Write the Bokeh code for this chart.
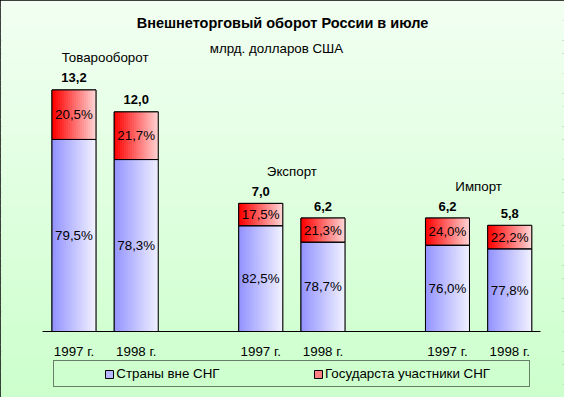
import numpy as np
from bokeh.plotting import figure
from bokeh.models import ColumnDataSource, Range1d, Legend, LegendItem, FixedTicker, Label
from bokeh.core.properties import value
from bokeh.embed import file_html
from bokeh.resources import INLINE

# ---------------- data ----------------
groups = ["Товарооборот", "Экспорт", "Импорт"]
year_labels = ["1997 г.", "1998 г.", "1997 г.", "1998 г.", "1997 г.", "1998 г."]
totals = [13.2, 12.0, 7.0, 6.2, 6.2, 5.8]
share_non_cis = [79.5, 78.3, 82.5, 78.7, 76.0, 77.8]
share_cis = [20.5, 21.7, 17.5, 21.3, 24.0, 22.2]
series_names = ["Страны вне СНГ", "Государста участники СНГ"]
title_text = "Внешнеторговый оборот России в июле"
subtitle_text = "млрд. долларов США"

FONT = "Liberation Sans"
FS = "13.33px"

# ---------------- layout helpers ----------------
W_FIG, H_FIG = 564, 397
PX = 62.25          # px per category slot
PY = 18.3           # px per value unit
BASE = 331          # baseline, px from top of figure
X0 = -0.5 - 42.35 / PX
X1 = X0 + W_FIG / PX
Y0 = -(H_FIG - BASE) / PY
Y1 = BASE / PY

def dx(fx):
    return X0 + fx / PX

def dy(fy):
    return (BASE - fy) / PY

# slot positions: 2 bars per group, one empty slot between groups
pos = [g * 3 + j for g in range(len(groups)) for j in range(2)]
BW = 44 / PX

tot = np.array(totals)
blue = tot * np.array(share_non_cis) / 100.0
red_b = blue
red_t = tot

p = figure(width=W_FIG, height=H_FIG, output_backend="svg", toolbar_location=None,
           x_range=Range1d(X0, X1), y_range=Range1d(Y0, Y1))
p.min_border = 0
p.min_border_left = p.min_border_right = p.min_border_top = p.min_border_bottom = 0
p.xgrid.visible = False
p.ygrid.visible = False
p.yaxis.visible = False
p.outline_line_color = "black"
p.outline_line_width = 3
p.background_fill_color = "#DDFFDD"
p.border_fill_color = "#DDFFDD"

def hexc(c):
    return "#%02x%02x%02x" % (int(c[0]), int(c[1]), int(c[2]))

# background vertical gradient
NB = 60
edges = np.linspace(Y1, Y0, NB + 1)
top_c = np.array([242, 255, 242])
bot_c = np.array([204, 255, 204])
bg_cols = []
for i in range(NB):
    t = i / (NB - 1)
    bg_cols.append(hexc((top_c * (1 - t) + bot_c * t).round()))
p.quad(left=[float(X0)] * NB, right=[float(X1)] * NB, top=[float(v) for v in edges[:-1]],
       bottom=[float(v) - 0.02 for v in edges[1:]], fill_color=bg_cols, line_color=None)

# base bars (legend representatives), then gradient strips, then outlines
r_blue = p.vbar(x=pos, width=BW, bottom=0, top=list(map(float, blue)), fill_color="#B8B8FF", line_color="black")
r_red = p.vbar(x=pos, width=BW, bottom=list(map(float, red_b)), top=list(map(float, red_t)),
               fill_color="#FF8080", line_color="black")
r_inv = p.vbar(x=pos, width=BW, bottom=0, top=list(map(float, tot)), fill_alpha=0, line_alpha=0)

NS = 22
blue_l, blue_r = np.array([148, 148, 255]), np.array([240, 240, 255])
red_l, red_r = np.array([255, 0, 0]), np.array([255, 210, 210])
sl, sr, sb, st, sc = [], [], [], [], []
for i, x in enumerate(pos):
    for k in range(NS):
        t = k / (NS - 1)
        xl = x - BW / 2 + k * BW / NS
        xr = xl + BW / NS * 1.2
        sl += [float(xl), float(xl)]
        sr += [float(xr), float(xr)]
        sb += [0.0, float(red_b[i])]
        st += [float(blue[i]), float(red_t[i])]
        sc += [hexc((blue_l * (1 - t) + blue_r * t).round()), hexc((red_l * (1 - t) + red_r * t).round())]
strips = ColumnDataSource(dict(left=sl, right=sr, bottom=sb, top=st, color=sc))
p.quad(left="left", right="right", bottom="bottom", top="top", fill_color="color", line_color=None, source=strips)
p.vbar(x=pos, width=BW, bottom=0, top=list(map(float, blue)), fill_alpha=0, line_color="black", line_width=1)
p.vbar(x=pos, width=BW, bottom=list(map(float, red_b)), top=list(map(float, red_t)),
       fill_alpha=0, line_color="black", line_width=1)

def fmt(v):
    return ("%.1f" % v).replace(".", ",")

# percentage labels inside segments
p.text(x=pos, y=list(map(float, blue / 2)), text=[fmt(s) + "%" for s in share_non_cis],
       text_align="center", text_baseline="middle", text_font=value(FONT),
       text_font_size=FS, text_color="black")
p.text(x=pos, y=list(map(float, (red_b + red_t) / 2)), text=[fmt(s) + "%" for s in share_cis],
       text_align="center", text_baseline="middle", text_font=value(FONT),
       text_font_size=FS, text_color="black")
# totals
p.text(x=pos, y=totals, text=[fmt(v) for v in totals], y_offset=-12,
       text_align="center", text_baseline="middle", text_font=value(FONT),
       text_font_size="13px", text_font_style="bold", text_color="black")
# group labels
gx = [g * 3 + 0.5 for g in range(len(groups))]
gy = [max(totals[2 * g], totals[2 * g + 1]) for g in range(len(groups))]
p.text(x=gx, y=gy, text=groups, y_offset=-32,
       text_align="center", text_baseline="middle", text_font=value(FONT),
       text_font_size=FS, text_color="black")

# title and subtitle
p.add_layout(Label(x=dx(282), y=dy(22), text=title_text, text_align="center", text_baseline="middle",
                   text_font=FONT, text_font_size="14.5px", text_font_style="bold", text_color="black"))
p.add_layout(Label(x=dx(276), y=dy(48), text=subtitle_text, text_align="center", text_baseline="middle",
                   text_font=FONT, text_font_size=FS, text_color="black"))

# x axis at baseline
ax = p.xaxis[0]
ax.fixed_location = 0
ax.bounds = (-0.5, 7.5)
ax.ticker = FixedTicker(ticks=pos)
ax.major_label_overrides = {x: lab for x, lab in zip(pos, year_labels)}
ax.major_tick_out = 0
ax.major_tick_in = 0
ax.minor_tick_out = 0
ax.minor_tick_in = 0
ax.axis_line_color = "black"
ax.axis_line_width = 1
ax.major_label_standoff = 12
ax.major_label_text_font = FONT
ax.major_label_text_font_size = FS
ax.major_label_text_color = "black"

# legend
NB_SP = "\u00a0"
legend = Legend(items=[
    LegendItem(label=NB_SP * 9, renderers=[r_inv]),
    LegendItem(label=series_names[0], renderers=[r_blue]),
    LegendItem(label=NB_SP * 22, renderers=[r_inv]),
    LegendItem(label=series_names[1], renderers=[r_red]),
    LegendItem(label=NB_SP * 6, renderers=[r_inv]),
], orientation="horizontal", location=(53, 10))
legend.glyph_width = 10
legend.glyph_height = 10
legend.label_standoff = 2
legend.label_height = 14
legend.spacing = 0
legend.padding = 5
legend.margin = 0
legend.label_text_font = FONT
legend.label_text_font_size = FS
legend.label_text_color = "black"
legend.border_line_color = "black"
legend.border_line_width = 1
legend.background_fill_alpha = 0
p.add_layout(legend)

open("out.html", "w").write(file_html(p, INLINE))
